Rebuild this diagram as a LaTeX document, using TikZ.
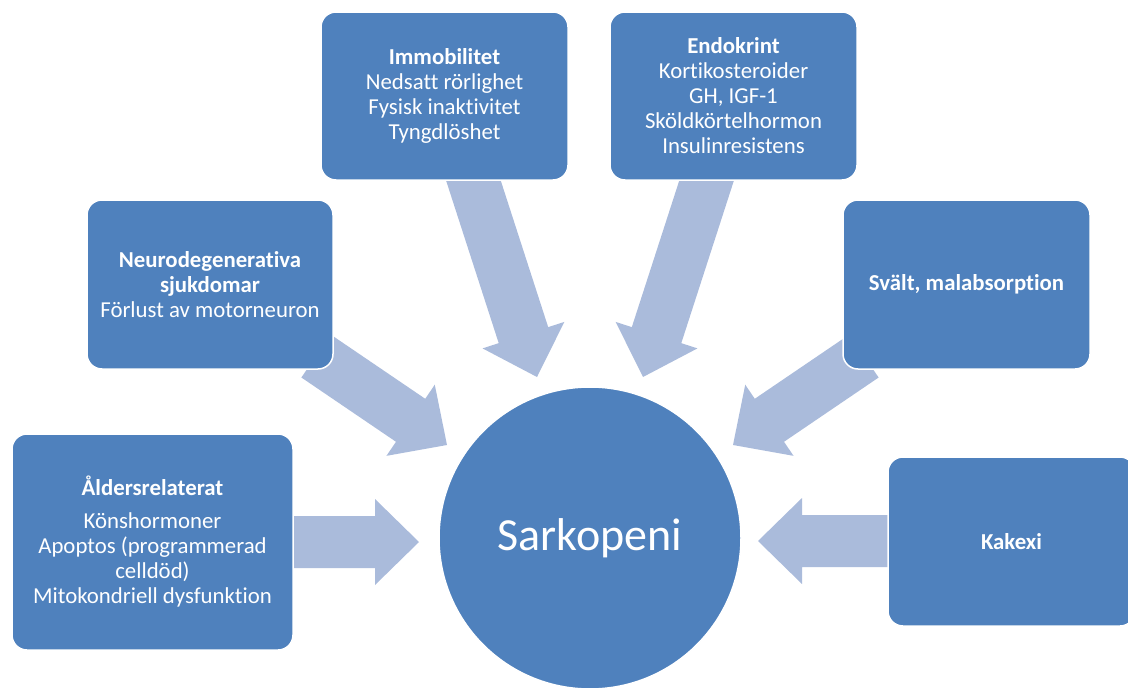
\documentclass[tikz,border=0pt]{standalone}
\usepackage{fontspec}
\setmainfont[Ligatures={NoCommon}]{Carlito}
\usetikzlibrary{calc}
\definecolor{boxblue}{HTML}{4F81BD}
\definecolor{arrowblue}{HTML}{AABBDB}
\tikzset{
  cbox/.style={draw=white, line width=1.5pt, fill=boxblue, rounded corners=15pt,
    text=white, align=center, inner sep=0pt, font=\fontsize{22.8}{25}\selectfont},
  hub/.style={circle, draw=white, line width=1.5pt, fill=boxblue, text=white,
    inner sep=0pt, minimum size=302pt, font=\fontsize{46}{55}\selectfont},
  blockarrow/.style={fill=arrowblue, draw=none}
}
\newcommand{\blockarr}[2]{%
  \fill[blockarrow]
    ($(#1)!26pt!90:(#2)$) --
    ($($(#2)!44pt!(#1)$)!26pt!-90:(#1)$) --
    ($($(#2)!44pt!(#1)$)!43pt!-90:(#1)$) --
    (#2) --
    ($($(#2)!44pt!(#1)$)!43pt!90:(#1)$) --
    ($($(#2)!44pt!(#1)$)!26pt!90:(#1)$) --
    ($(#1)!26pt!-90:(#2)$) -- cycle;}
\begin{document}
\begin{tikzpicture}[x=1pt,y=-1pt]
\useasboundingbox (0,0) rectangle (1128,688);
% arrow end points
\coordinate (t1) at (290,542);   \coordinate (p1) at (419,542);
\coordinate (t2) at (316,356);   \coordinate (p2) at (447,445);
\coordinate (t3) at (470,170);   \coordinate (p3) at (537,377);
\coordinate (t4) at (710,170);   \coordinate (p4) at (643,377);
\coordinate (t5) at (864,356);   \coordinate (p5) at (733,445);
\coordinate (t6) at (890,541);   \coordinate (p6) at (758,541);
\blockarr{t1}{p1}
\blockarr{t2}{p2}
\blockarr{t3}{p3}
\blockarr{t4}{p4}
\blockarr{t5}{p5}
\blockarr{t6}{p6}
% boxes
\node[cbox, minimum width=281pt, minimum height=216pt] (age) at (152.5,542)
  {\textbf{Åldersrelaterat}\\[8pt]Könshormoner\\Apoptos (programmerad\\celldöd)\\Mitokondriell dysfunktion};
\node[cbox, minimum width=246pt, minimum height=169pt] (neuro) at (210,284.5)
  {\textbf{Neurodegenerativa}\\\textbf{sjukdomar}\\Förlust av motorneuron};
\node[cbox, minimum width=247pt, minimum height=168pt] (immob) at (444.5,96)
  {\textbf{Immobilitet}\\Nedsatt rörlighet\\Fysisk inaktivitet\\Tyngdlöshet};
\node[cbox, minimum width=247pt, minimum height=168pt] (endo) at (733.5,96)
  {\textbf{Endokrint}\\Kortikosteroider\\GH, IGF-1\\Sköldkörtelhormon\\Insulinresistens};
\node[cbox, minimum width=247pt, minimum height=169pt] (svalt) at (966.5,284.5)
  {\textbf{Svält, malabsorption}};
\node[cbox, minimum width=247pt, minimum height=169pt] (kakexi) at (1011.5,541.5)
  {\textbf{Kakexi}};
\node[hub] (sark) at (590,538) {Sarkopeni};
\end{tikzpicture}
\end{document}
